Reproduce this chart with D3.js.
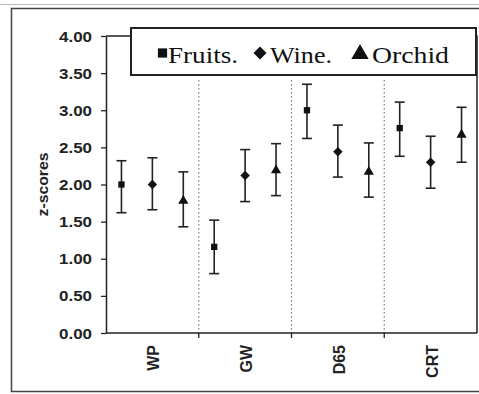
<!DOCTYPE html>
<html>
<head>
<meta charset="utf-8">
<script src="https://cdn.jsdelivr.net/npm/d3@7"></script>
<style>
  html, body { margin: 0; padding: 0; background: #fff; }
  svg { display: block; }
</style>
</head>
<body>
<svg id="chart" width="479" height="394"></svg>
<script>
// A square turned on its corner: a wide, even diamond
const symbolSquareDiamond = {
  draw(context, size) {
    const r = Math.sqrt(size / 2);
    context.moveTo(0, -r);
    context.lineTo(r, 0);
    context.lineTo(0, r);
    context.lineTo(-r, 0);
    context.closePath();
  }
};

// Panels (illuminants) and stimulus series
const categories = ["WP", "GW", "D65", "CRT"];
const seriesNames = ["Fruits.", "Wine.", "Orchid"];
const seriesSymbols = [d3.symbolSquare, symbolSquareDiamond, d3.symbolTriangle];

// Mean z-scores per series, one value per panel
const fruitsMean = [2.00, 1.16, 3.00, 2.76];
const wineMean   = [2.00, 2.12, 2.44, 2.30];
const orchidMean = [1.78, 2.19, 2.17, 2.67];

// Error bar extents (low, high)
const fruitsLow  = [1.62, 0.80, 2.62, 2.38];
const fruitsHigh = [2.32, 1.52, 3.35, 3.11];
const wineLow    = [1.66, 1.77, 2.10, 1.95];
const wineHigh   = [2.36, 2.47, 2.80, 2.65];
const orchidLow  = [1.43, 1.85, 1.83, 2.30];
const orchidHigh = [2.17, 2.55, 2.56, 3.04];

const yTicks = [0, 0.5, 1, 1.5, 2, 2.5, 3, 3.5, 4];

const series = [
  { name: seriesNames[0], symbol: seriesSymbols[0], mean: fruitsMean, low: fruitsLow, high: fruitsHigh, size: 40 },
  { name: seriesNames[1], symbol: seriesSymbols[1], mean: wineMean,   low: wineLow,   high: wineHigh,   size: 45 },
  { name: seriesNames[2], symbol: seriesSymbols[2], mean: orchidMean, low: orchidLow, high: orchidHigh, size: 45 }
];

const svg = d3.select("#chart");
const ink = "#222";
const sans = "Liberation Sans, Arial, sans-serif";
const serif = "Liberation Serif, Times New Roman, serif";

// Outer frame
svg.append("line")
  .attr("x1", 0).attr("x2", 479).attr("y1", 4.5).attr("y2", 4.5)
  .attr("stroke", "#bbb").attr("stroke-width", 1);
svg.append("rect")
  .attr("x", 11.5).attr("y", 8.5).attr("width", 470).attr("height", 383)
  .attr("fill", "none").attr("stroke", "#444").attr("stroke-width", 1.5);

const plot = { left: 106, right: 477, top: 36, bottom: 333 };

const x = d3.scaleBand().domain(categories).range([plot.left, plot.right]);
const xInner = d3.scalePoint().domain(seriesNames).range([0, x.bandwidth()]).padding(0.5);
const y = d3.scaleLinear().domain([0, 4]).range([plot.bottom, plot.top]);

// Plot frame (top and right edges)
svg.append("path")
  .attr("d", `M${plot.left},${plot.top}H${plot.right}V${plot.bottom}`)
  .attr("fill", "none").attr("stroke", ink).attr("stroke-width", 1.5);

// Dotted panel separators
svg.append("g").selectAll("line")
  .data(categories.slice(1))
  .join("line")
  .attr("x1", d => x(d)).attr("x2", d => x(d))
  .attr("y1", 80).attr("y2", plot.bottom)
  .attr("stroke", "#777").attr("stroke-width", 1.2)
  .attr("stroke-dasharray", "1.5,2.5");

// Y axis
const yAxis = svg.append("g")
  .attr("transform", `translate(${plot.left},0)`)
  .call(d3.axisLeft(y).tickValues(yTicks).tickFormat(d3.format(".2f")).tickSize(5).tickSizeOuter(0));
yAxis.select(".domain").attr("stroke", ink).attr("stroke-width", 1.5);
yAxis.selectAll(".tick line").attr("stroke", ink).attr("stroke-width", 1.3);
yAxis.selectAll(".tick text")
  .attr("x", -14)
  .attr("dy", "0.36em")
  .attr("fill", "#222")
  .attr("textLength", 33)
  .attr("lengthAdjust", "spacingAndGlyphs")
  .style("font-family", sans)
  .style("font-size", "14px")
  .style("font-weight", "bold");

// X axis: ticks at panel boundaries, labels at centres
svg.append("line")
  .attr("x1", plot.left).attr("x2", plot.right)
  .attr("y1", plot.bottom).attr("y2", plot.bottom)
  .attr("stroke", ink).attr("stroke-width", 1.5);
svg.append("g").selectAll("line")
  .data(categories.slice(1))
  .join("line")
  .attr("x1", d => x(d)).attr("x2", d => x(d))
  .attr("y1", plot.bottom).attr("y2", plot.bottom + 5)
  .attr("stroke", ink).attr("stroke-width", 1.3);
svg.append("g").selectAll("text")
  .data(categories)
  .join("text")
  .attr("transform", d => `translate(${x(d) + x.bandwidth() / 2 + 7},${plot.bottom + 12}) rotate(-90)`)
  .attr("text-anchor", "end")
  .attr("fill", "#222")
  .style("font-family", sans)
  .style("font-size", "16px")
  .style("font-weight", "bold")
  .text(d => d);

// Y axis title
svg.append("text")
  .attr("transform", `translate(48,${(plot.top + plot.bottom) / 2}) rotate(-90)`)
  .attr("text-anchor", "middle")
  .attr("fill", "#222")
  .attr("textLength", 64)
  .attr("lengthAdjust", "spacingAndGlyphs")
  .style("font-family", sans)
  .style("font-size", "14px")
  .style("font-weight", "bold")
  .text("z-scores");

// Error bars and markers
const capHalf = 5;
series.forEach(s => {
  const g = svg.append("g");
  const data = categories.map((c, i) => ({ c, mean: s.mean[i], low: s.low[i], high: s.high[i] }));
  const cx = d => x(d.c) + xInner(s.name);
  g.selectAll(".stem").data(data).join("line")
    .attr("x1", cx).attr("x2", cx)
    .attr("y1", d => y(d.low)).attr("y2", d => y(d.high))
    .attr("stroke", ink).attr("stroke-width", 1.6);
  ["low", "high"].forEach(k => {
    g.selectAll(".cap-" + k).data(data).join("line")
      .attr("x1", d => cx(d) - capHalf).attr("x2", d => cx(d) + capHalf)
      .attr("y1", d => y(d[k])).attr("y2", d => y(d[k]))
      .attr("stroke", ink).attr("stroke-width", 1.6);
  });
  g.selectAll(".pt").data(data).join("path")
    .attr("d", d3.symbol().type(s.symbol).size(s.size))
    .attr("transform", d => `translate(${cx(d)},${y(d.mean)})`)
    .attr("fill", "#111");
});

// Legend
const legend = svg.append("g");
legend.append("rect")
  .attr("x", 131).attr("y", 28).attr("width", 345).attr("height", 47)
  .attr("fill", "#fff").attr("stroke", ink).attr("stroke-width", 2);
const legendItems = [
  { sx: 162.5, sy: 53, tx: 168, len: 70, size: 85 },
  { sx: 260,   sy: 53, tx: 270, len: 62, size: 85 },
  { sx: 360,   sy: 54, tx: 372, len: 77, size: 130 }
];
series.forEach((s, i) => {
  const it = legendItems[i];
  legend.append("path")
    .attr("d", d3.symbol().type(s.symbol).size(it.size))
    .attr("transform", `translate(${it.sx},${it.sy})`)
    .attr("fill", "#111");
  legend.append("text")
    .attr("x", it.tx).attr("y", 63)
    .attr("fill", "#111")
    .attr("textLength", it.len)
    .attr("lengthAdjust", "spacingAndGlyphs")
    .style("font-family", serif)
    .style("font-size", "24px")
    .text(s.name);
});
</script>
</body>
</html>
